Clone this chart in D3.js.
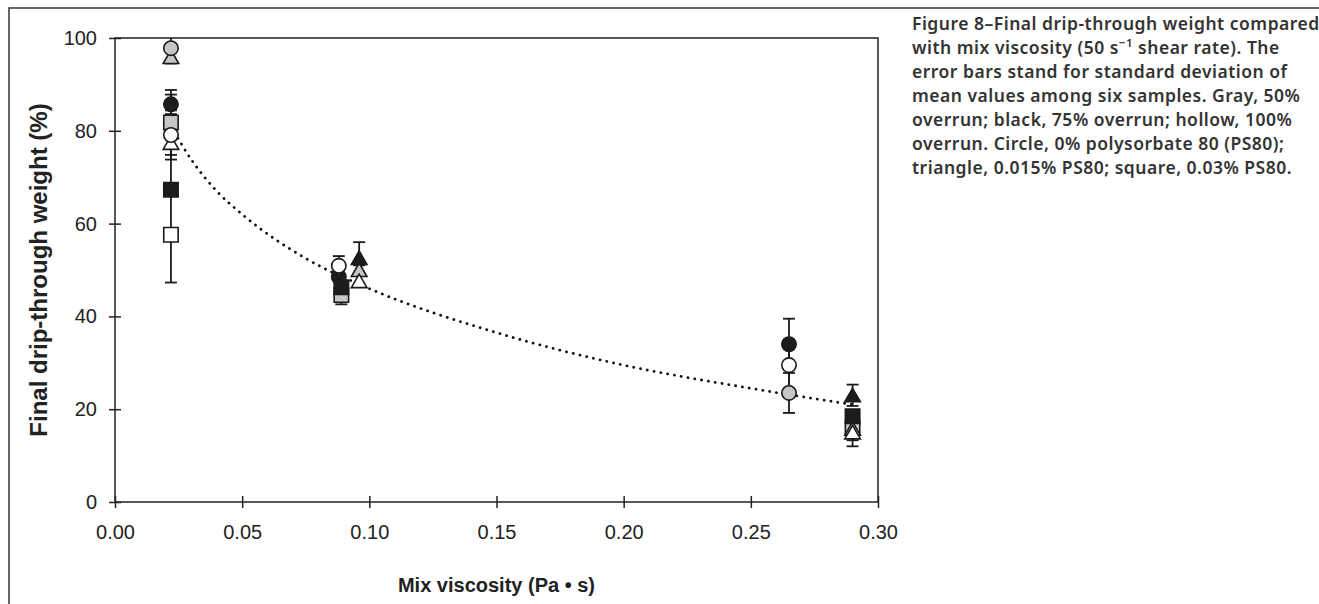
<!DOCTYPE html>
<html>
<head>
<meta charset="utf-8">
<script src="https://cdn.jsdelivr.net/npm/d3@7"></script>
<style>
  body { margin: 0; background: #fff; }
  svg { display: block; }
</style>
</head>
<body>
<svg id="chart"></svg>
<script>
// axis ticks
const xTicks = [0, 0.05, 0.10, 0.15, 0.20, 0.25, 0.30];
const yTicks = [0, 20, 40, 60, 80, 100];

// points grouped by overrun (gray 50%, black 75%, hollow 100%)
// ps80: circle 0%, triangle 0.015%, square 0.03%
const gray50 = [
  { ps80: "0.03%",  visc: 0.022, weight: 81.8, sd: 7.0 },
  { ps80: "0.03%",  visc: 0.089, weight: 44.6, sd: 2.0 },
  { ps80: "0.03%",  visc: 0.290, weight: 16.0, sd: 2.7 },
  { ps80: "0.015%", visc: 0.022, weight: 95.9, sd: 1.0 },
  { ps80: "0.015%", visc: 0.096, weight: 50.0, sd: 1.0 },
  { ps80: "0.015%", visc: 0.290, weight: 15.8, sd: 1.0 },
  { ps80: "0%",     visc: 0.022, weight: 97.8, sd: 3.3 },
  { ps80: "0%",     visc: 0.265, weight: 23.5, sd: 4.3 }
];
const black75 = [
  { ps80: "0.03%",  visc: 0.022, weight: 67.3, sd: 1.0 },
  { ps80: "0.03%",  visc: 0.089, weight: 46.3, sd: 1.0 },
  { ps80: "0.03%",  visc: 0.290, weight: 18.5, sd: 1.0 },
  { ps80: "0.015%", visc: 0.096, weight: 52.6, sd: 3.4 },
  { ps80: "0.015%", visc: 0.290, weight: 23.0, sd: 2.3 },
  { ps80: "0%",     visc: 0.022, weight: 85.7, sd: 2.1 },
  { ps80: "0%",     visc: 0.088, weight: 48.5, sd: 1.0 },
  { ps80: "0%",     visc: 0.265, weight: 34.0, sd: 5.5 }
];
const hollow100 = [
  { ps80: "0.03%",  visc: 0.022, weight: 57.6, sd: 10.3 },
  { ps80: "0.015%", visc: 0.022, weight: 77.4, sd: 9.0 },
  { ps80: "0.015%", visc: 0.096, weight: 47.6, sd: 1.3 },
  { ps80: "0.015%", visc: 0.290, weight: 15.0, sd: 3.0 },
  { ps80: "0%",     visc: 0.022, weight: 79.1, sd: 5.3 },
  { ps80: "0%",     visc: 0.088, weight: 50.9, sd: 2.1 },
  { ps80: "0%",     visc: 0.265, weight: 29.5, sd: 5.5 }
];

// dotted trend line
const trendVisc   = [0.022, 0.03, 0.04, 0.05, 0.075, 0.10, 0.15, 0.20, 0.25, 0.29];
const trendWeight = [81.0, 73.8, 67.0, 62.0, 52.5, 46.0, 36.5, 29.5, 24.5, 21.0];

const captionLines = [
  "Figure 8\u2013Final drip-through weight compared",
  "with mix viscosity (50 s|\u22121| shear rate). The",
  "error bars stand for standard deviation of",
  "mean values among six samples. Gray, 50%",
  "overrun; black, 75% overrun; hollow, 100%",
  "overrun. Circle, 0% polysorbate 80 (PS80);",
  "triangle, 0.015% PS80; square, 0.03% PS80."
];

const width = 1319;
const height = 604;
const plot = { left: 115, right: 878, top: 38, bottom: 502 };

const svg = d3.select('#chart')
  .attr('width', width)
  .attr('height', height);

// outer figure frame
svg.append('path')
  .attr('d', `M9,${height + 2}V8H${width + 2}`)
  .attr('fill', 'none')
  .attr('stroke', '#333')
  .attr('stroke-width', 1.5);

const x = d3.scaleLinear().domain([0, 0.30]).range([plot.left, plot.right]);
const y = d3.scaleLinear().domain([0, 100]).range([plot.bottom, plot.top]);

const axisFont = '"Liberation Sans", Arial, sans-serif';

// y axis
const yAxis = svg.append('g')
  .attr('transform', `translate(${plot.left},0)`)
  .call(d3.axisLeft(y).tickValues(yTicks).tickSize(6).tickPadding(12).tickFormat(d3.format('d')));
yAxis.select('.domain').remove();
yAxis.selectAll('.tick line').attr('x1', 6).attr('stroke', '#222').attr('stroke-width', 1.5);
yAxis.selectAll('.tick text').attr('font-family', axisFont).attr('font-size', 20).attr('fill', '#222');

// x axis
const xAxis = svg.append('g')
  .attr('transform', `translate(0,${plot.bottom})`)
  .call(d3.axisBottom(x).tickValues(xTicks).tickSize(6).tickPadding(17).tickFormat(d3.format('.2f')));
xAxis.select('.domain').remove();
xAxis.selectAll('.tick line').attr('y1', -6).attr('stroke', '#222').attr('stroke-width', 1.5);
xAxis.selectAll('.tick text').attr('font-family', axisFont).attr('font-size', 20).attr('fill', '#222');

// plot frame
svg.append('rect')
  .attr('x', plot.left).attr('y', plot.top)
  .attr('width', plot.right - plot.left).attr('height', plot.bottom - plot.top)
  .attr('fill', 'none').attr('stroke', '#222').attr('stroke-width', 1.5);

svg.append('clipPath').attr('id', 'plotClip')
  .append('rect')
  .attr('x', plot.left).attr('y', plot.top)
  .attr('width', plot.right - plot.left).attr('height', plot.bottom - plot.top);

// trend line
const trend = trendVisc.map((v, i) => [v, trendWeight[i]]);
svg.append('path')
  .datum(trend)
  .attr('d', d3.line().x(d => x(d[0])).y(d => y(d[1])).curve(d3.curveMonotoneX))
  .attr('fill', 'none')
  .attr('stroke', '#111')
  .attr('stroke-width', 2.8)
  .attr('stroke-linecap', 'round')
  .attr('stroke-dasharray', '0.1,6.8');

const series = [
  { data: gray50, fill: '#c6c6c6' },
  { data: black75, fill: '#1c1c1c' },
  { data: hollow100, fill: '#ffffff' }
];

// error bars first, so markers sit on top
const bars = svg.append('g').attr('clip-path', 'url(#plotClip)');
series.forEach(s => {
  s.data.forEach(d => {
    const cx = x(d.visc);
    const y1 = y(d.weight + d.sd);
    const y2 = y(d.weight - d.sd);
    const g = bars.append('g').attr('stroke', '#1a1a1a').attr('stroke-width', 1.8);
    g.append('line').attr('x1', cx).attr('x2', cx).attr('y1', y1).attr('y2', y2);
    g.append('line').attr('x1', cx - 6).attr('x2', cx + 6).attr('y1', y1).attr('y2', y1);
    g.append('line').attr('x1', cx - 6).attr('x2', cx + 6).attr('y1', y2).attr('y2', y2);
  });
});

function markerPath(ps80) {
  if (ps80 === '0%') {
    return d3.arc()({ innerRadius: 0, outerRadius: 7.2, startAngle: 0, endAngle: 2 * Math.PI });
  }
  if (ps80 === '0.015%') {
    return 'M0,-7L7.8,6.5L-7.8,6.5Z';
  }
  return 'M-7.2,-7.2H7.2V7.2H-7.2Z';
}

const marks = svg.append('g');
series.forEach(s => {
  marks.selectAll(null)
    .data(s.data)
    .enter()
    .append('path')
    .attr('transform', d => `translate(${x(d.visc)},${y(d.weight)})`)
    .attr('d', d => markerPath(d.ps80))
    .attr('fill', s.fill)
    .attr('stroke', '#1a1a1a')
    .attr('stroke-width', 1.6);
});

// axis titles
svg.append('text')
  .attr('transform', `translate(38,${(plot.top + plot.bottom) / 2}) rotate(-90)`)
  .attr('text-anchor', 'middle')
  .attr('dominant-baseline', 'central')
  .attr('font-family', axisFont)
  .attr('font-weight', 'bold')
  .attr('font-size', 24)
  .attr('fill', '#222')
  .text('Final drip-through weight (%)');

svg.append('text')
  .attr('x', (plot.left + plot.right) / 2)
  .attr('y', 592)
  .attr('text-anchor', 'middle')
  .attr('font-family', axisFont)
  .attr('font-weight', 'bold')
  .attr('font-size', 20)
  .attr('fill', '#222')
  .text('Mix viscosity (Pa \u2022 s)');

// caption
const caption = svg.append('text')
  .attr('font-family', '"Noto Sans", "Open Sans", sans-serif')
  .attr('font-weight', 600)
  .attr('font-size', 17.5)
  .attr('letter-spacing', 0.5)
  .attr('fill', '#333');

captionLines.forEach((line, i) => {
  const t = caption.append('tspan').attr('x', 912).attr('y', 30 + i * 24);
  line.split('|').forEach((part, j) => {
    const sp = t.append('tspan').text(part);
    if (j === 1) sp.attr('baseline-shift', 'super').attr('font-size', 11.5);
  });
});
</script>
</body>
</html>
